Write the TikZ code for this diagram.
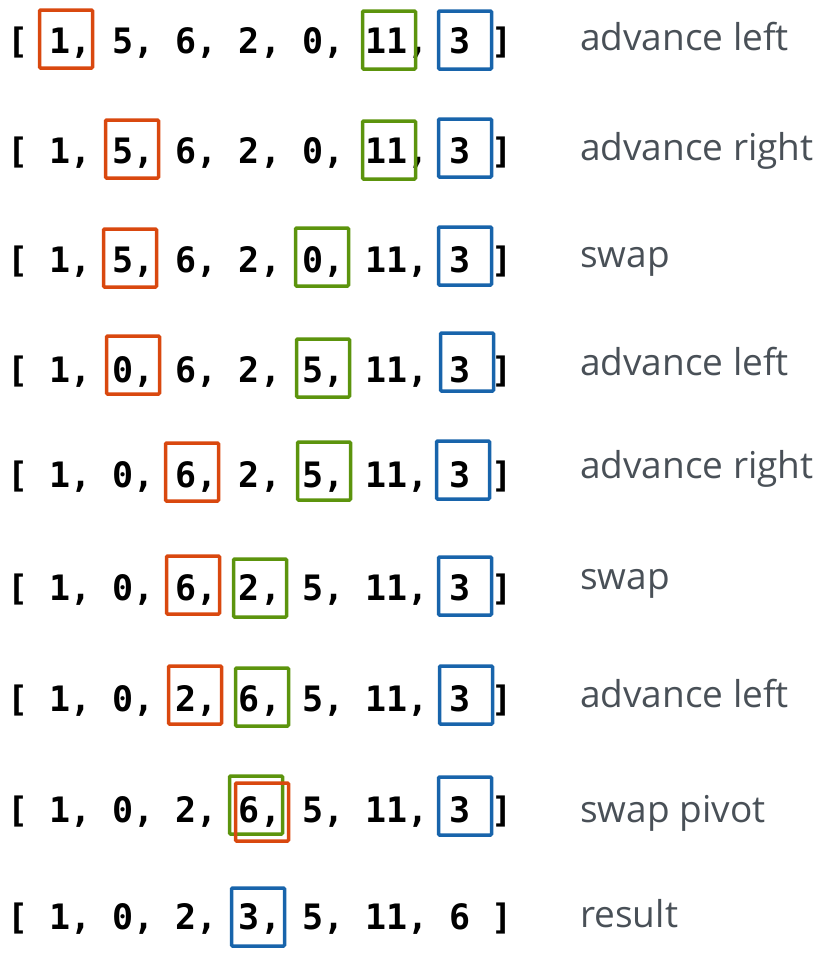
\documentclass[tikz,border=0pt]{standalone}
\usepackage{fontspec}
\setmonofont{DejaVu Sans Mono}
\newfontfamily\notefont{Open Sans}
\usetikzlibrary{positioning}
\definecolor{ptrleft}{HTML}{D9480F}
\definecolor{ptrright}{HTML}{5C940D}
\definecolor{ptrpivot}{HTML}{1864AB}
\definecolor{notegray}{HTML}{495057}

\begin{document}
\begin{tikzpicture}[x=1pt,y=-1pt,
        arr/.style={anchor=base west,inner sep=0,font=\ttfamily\bfseries\fontsize{35}{40}\selectfont},
        note/.style={anchor=base west,inner sep=0,text=notegray,font=\notefont\fontsize{37}{40}\selectfont},
        box/.style={rectangle,draw,line width=3.5pt,rounded corners=1pt,minimum width=53pt,minimum height=58pt,inner sep=0},
        lbox/.style={box,draw=ptrleft},
        rbox/.style={box,draw=ptrright},
        pbox/.style={box,draw=ptrpivot}
        ]
        \useasboundingbox (0,0) rectangle (828,956);
        \node (a1) [arr] at (7,53)  {[ 1, 5, 6, 2, 0, 11, 3 ]};
        \node (a2) [arr] at (7,163) {[ 1, 5, 6, 2, 0, 11, 3 ]};
        \node (a3) [arr] at (7,272) {[ 1, 5, 6, 2, 0, 11, 3 ]};
        \node (a4) [arr] at (7,382) {[ 1, 0, 6, 2, 5, 11, 3 ]};
        \node (a5) [arr] at (7,487) {[ 1, 0, 6, 2, 5, 11, 3 ]};
        \node (a6) [arr] at (7,600) {[ 1, 0, 6, 2, 5, 11, 3 ]};
        \node (a7) [arr] at (7,711) {[ 1, 0, 2, 6, 5, 11, 3 ]};
        \node (a8) [arr] at (7,822) {[ 1, 0, 2, 6, 5, 11, 3 ]};
        \node (a9) [arr] at (7,929) {[ 1, 0, 2, 3, 5, 11, 6 ]};
        \node (t1) [note] at (580,50)  {advance left};
        \node (t2) [note] at (580,160) {advance right};
        \node (t3) [note] at (580,267) {swap};
        \node (t4) [note] at (580,375) {advance left};
        \node (t5) [note] at (580,478) {advance right};
        \node (t6) [note] at (580,589) {swap};
        \node (t7) [note] at (580,707) {advance left};
        \node (t8) [note] at (580,822) {swap pivot};
        \node (t9) [note] at (580,927) {result};
        \node (l1) [lbox] at (66,39)   {};
        \node (r1) [rbox] at (389,40)  {};
        \node (p1) [pbox] at (465,40)  {};
        \node (l2) [lbox] at (132,149) {};
        \node (r2) [rbox] at (389,150) {};
        \node (p2) [pbox] at (465,148) {};
        \node (l3) [lbox] at (130,258) {};
        \node (r3) [rbox] at (322,257) {};
        \node (p3) [pbox] at (465,256) {};
        \node (l4) [lbox] at (133,365) {};
        \node (r4) [rbox] at (323,368) {};
        \node (p4) [pbox] at (467,362) {};
        \node (l5) [lbox] at (192,472) {};
        \node (r5) [rbox] at (324,471) {};
        \node (p5) [pbox] at (463,470) {};
        \node (l6) [lbox] at (193,585) {};
        \node (r6) [rbox] at (260,588) {};
        \node (p6) [pbox] at (465,586) {};
        \node (l7) [lbox] at (195,695) {};
        \node (r7) [rbox] at (262,697) {};
        \node (p7) [pbox] at (466,695) {};
        \node (r8) [rbox] at (256,805) {};
        \node (l8) [lbox] at (262,812) {};
        \node (p8) [pbox] at (465,806) {};
        \node (p9) [pbox] at (258,917) {};
\end{tikzpicture}
\end{document}
